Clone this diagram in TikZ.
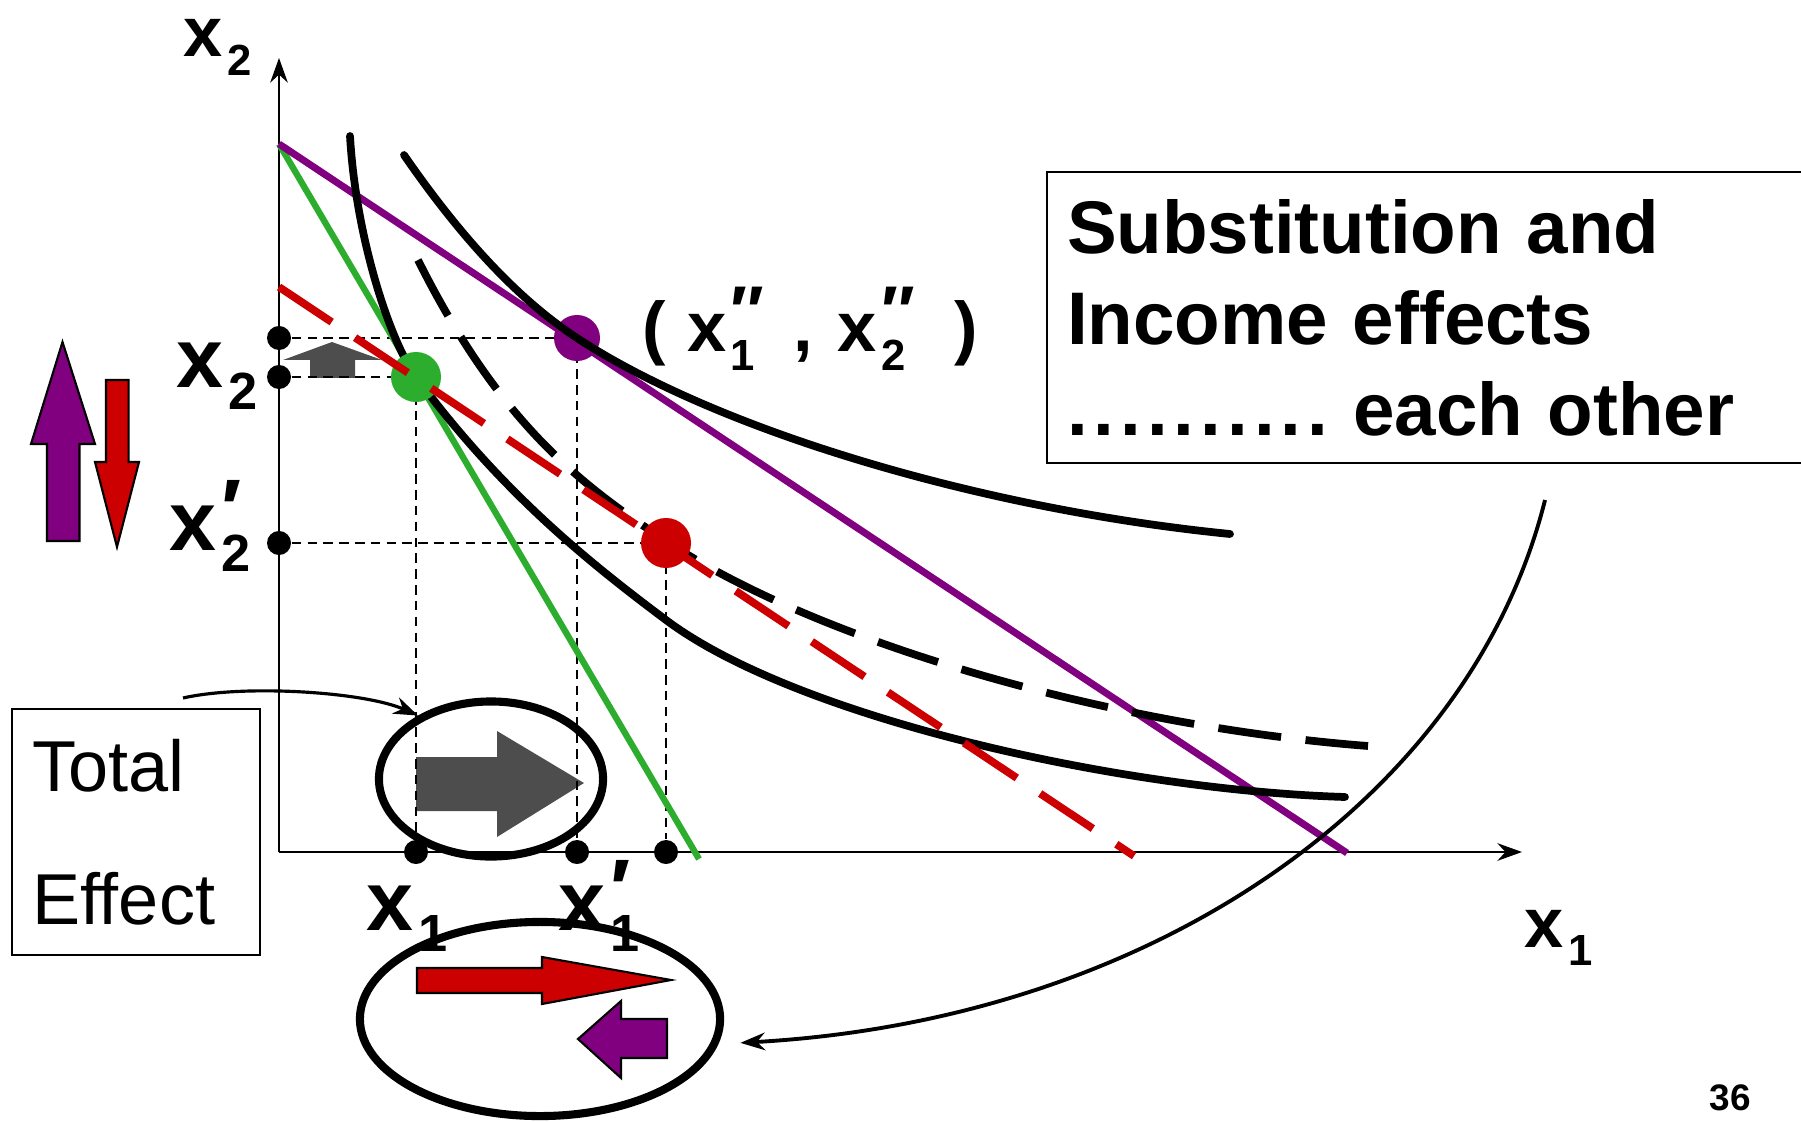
\documentclass[tikz,border=0pt]{standalone}
\usepackage{fontspec}
\setmainfont{Liberation Sans}
\usepackage{graphicx}
\usetikzlibrary{arrows.meta,calc,positioning,shapes.geometric}

\definecolor{budpurple}{RGB}{128,0,128}
\definecolor{budred}{RGB}{204,0,0}
\definecolor{budgreen}{RGB}{45,173,45}
\definecolor{arrgray}{RGB}{77,77,77}

% x with subscript and (optional) prime
\newcommand{\xlab}[2]{x\kern.06em\rlap{\raisebox{.14em}{#2}}\raisebox{-.26em}{\scalebox{.62}{#1}}}

\begin{document}
\begin{tikzpicture}[x=0.01cm,y=-0.01cm,>={Stealth[length=7pt,width=5pt]},
  icurve/.style={line width=2.2pt,line cap=round},
  guide/.style={line width=0.5pt,dash pattern=on 2.7pt off 1.8pt},
  adot/.style={circle,fill=black,inner sep=0pt,minimum size=0.24cm},
  bigdot/.style={circle,inner sep=0pt,minimum size=0.5cm},
  lab/.style={anchor=base west,inner sep=0pt,font=\bfseries\fontsize{24pt}{28pt}\selectfont},
  smlab/.style={anchor=base west,inner sep=0pt,font=\bfseries\fontsize{20pt}{24pt}\selectfont},
  effarrow/.style={draw=black,line width=0.6pt},
  conn/.style={->,line width=0.9pt}]
  \useasboundingbox (0,0) rectangle (1801,1122);

  % axes
  \coordinate (O) at (279,852);
  \coordinate (ytop) at (279,58);
  \coordinate (xend) at (1522,852);
  \draw[->,line width=0.7pt] (O) -- (ytop);
  \draw[->,line width=0.7pt] (O) -- (xend);

  % effect arrows
  \filldraw[effarrow,fill=budpurple] (47,541) -- (47,444) -- (31,444) -- (62.5,342) -- (95,444) -- (79.5,444) -- (79.5,541) -- cycle;
  \filldraw[effarrow,fill=budred] (106,380) -- (128.6,380) -- (128.6,462) -- (139,462) -- (117,547) -- (95,462) -- (106,462) -- cycle;
  \fill[arrgray] (310,378) -- (310,360) -- (283,360) -- (332,342) -- (382,360) -- (355,360) -- (355,378) -- cycle;
  \fill[arrgray] (416,757) -- (497,757) -- (497,731) -- (584,783) -- (497,837) -- (497,811) -- (416,811) -- cycle;
  \filldraw[effarrow,fill=budred] (417,968) -- (542,968) -- (542,957) -- (671,980) -- (542,1004) -- (542,993) -- (417,993) -- cycle;
  \filldraw[effarrow,fill=budpurple] (667,1019) -- (621,1019) -- (621,1001) -- (578,1039) -- (621,1078) -- (621,1058) -- (667,1058) -- cycle;

  % bundles and guides
  \coordinate (A) at (416,377);
  \coordinate (B) at (577,338);
  \coordinate (C) at (666,543);
  \node[adot] (yA) at (O |- A) {};
  \node[adot] (yB) at (O |- B) {};
  \node[adot] (yC) at (O |- C) {};
  \node[adot] (xA) at (A |- O) {};
  \node[adot] (xB) at (B |- O) {};
  \node[adot] (xC) at (C |- O) {};
  \draw[guide] (yA) -- (A) -- (xA);
  \draw[guide] (yB) -- (B) -- (xB);
  \draw[guide] (yC) -- (C) -- (xC);

  % budget lines
  \coordinate (Y0) at (279,144);
  \draw[budgreen,line width=1.8pt] (Y0) -- (699,859);
  \draw[budpurple,line width=2pt] (Y0) -- (1347,853);

  % indifference curves
  \draw[icurve] (350,136) .. controls (356,240) and (391,343) .. (A)
    .. controls (499,489) and (583,558) .. (666,620)
    .. controls (796,717.5) and (1119,790) .. (1345,797);
  \node[bigdot,fill=budgreen] (gpt) at (A) {};
  \node[bigdot,fill=budpurple,minimum size=0.46cm] (ppt) at (B) {};
  \draw[icurve] (404,155) .. controls (462,239) and (519,300) .. (B)
    .. controls (717,430) and (980,509) .. (1230,534);
  \draw[line width=2.2pt,dash pattern=on 18pt off 7pt] (418,260) .. controls (501,426) and (583,486) .. (666,541)
    .. controls (816,641) and (1108,726) .. (1368,746);
  \draw[budred,line width=2.2pt,dash pattern=on 18pt off 8pt] (279,287) -- (1134,856);
  \node[bigdot,fill=budred] (rpt) at (C) {};

  % labels
  \node[smlab] (lx2top) at (183,57) {\xlab{2}{}};
  \node[smlab] (lx1r) at (1524,947) {\xlab{1}{}};
  \node[lab] (lx2) at (176,388) {\xlab{2}{}};
  \node[lab] (lx2p) at (169,550) {\xlab{2}{′}};
  \node[lab] (lx1) at (366,930) {\xlab{1}{}};
  \node[lab] (lx1p) at (558,930) {\xlab{1}{′}};
  \node[smlab] (lpt) at (642,352) {(\hspace{.3em}\xlab{1}{\raisebox{.1em}{″}}\hspace{.55em},\hspace{.35em}\xlab{2}{\raisebox{.1em}{″}}\hspace{.7em})};

  % boxes and rings
  \node[draw,line width=0.6pt,anchor=north west,text width=7.8cm,inner xsep=0.2cm,minimum height=2.91cm,align=left,
    font=\bfseries\fontsize{21.2pt}{25.8pt}\selectfont] (sibox) at (1046,171)
    {Substitution and\\Income effects\\\makebox[2.61cm][s]{.\hfill.\hfill.\hfill.\hfill.\hfill.\hfill.\hfill.\hfill.\hfill.} each other};
  \node[draw,line width=0.6pt,anchor=north west,text width=2.08cm,inner xsep=0.2cm,minimum height=2.46cm,align=left,
    font=\fontsize{20.5pt}{38pt}\selectfont] (totbox) at (11,708) {Total\\Effect};
  \node[draw,ellipse,line width=2.3pt,minimum width=2.24cm,minimum height=1.55cm] (totell) at (491,779) {};
  \node[draw,ellipse,line width=2.3pt,minimum width=3.6cm,minimum height=1.94cm] (bigell) at (540,1019) {};

  % pointers
  \coordinate (tstart) at (183,698);
  \draw[conn] (tstart) .. controls (245,684) and (365,692) .. (totell.139);
  \coordinate (rstart) at (1545,500);
  \draw[conn,line width=1.1pt,shorten >=2.2mm] (rstart) .. controls (1470,800) and (1150,1020) .. (bigell.-8);

  \node[font=\bfseries\fontsize{10.5pt}{12pt}\selectfont] (pgno) at (1730,1098) {36};
\end{tikzpicture}
\end{document}
